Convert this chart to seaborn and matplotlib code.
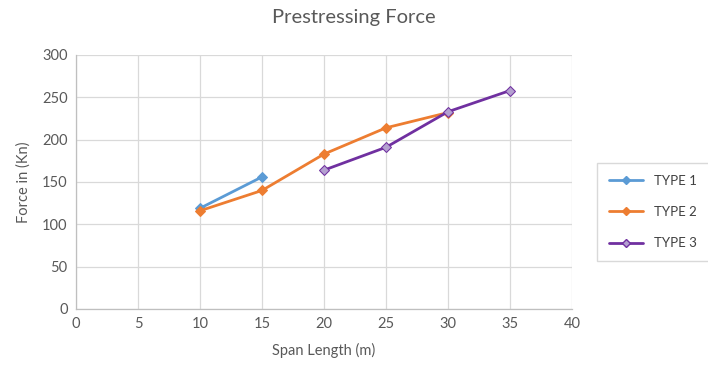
import matplotlib
matplotlib.use("Agg")
import matplotlib.pyplot as plt
from matplotlib.lines import Line2D
import seaborn as sns
import pandas as pd

span_1 = [10, 15]
force_1 = [119, 156]
span_2 = [10, 15, 20, 25, 30]
force_2 = [116, 140, 183, 214, 232]
span_3 = [20, 25, 30, 35]
force_3 = [164, 191, 233, 258]
series_names = ["TYPE 1", "TYPE 2", "TYPE 3"]
colors = ["#5B9BD5", "#ED7D31", "#7030A0"]
face_colors = ["#5B9BD5", "#ED7D31", "#B4A0D0"]

sns.set_theme(style="white")
plt.rcParams['font.family'] = ['Lato', 'DejaVu Sans']

fig = plt.figure(figsize=(7.08, 3.71), dpi=100)
ax = fig.add_axes([76/708, 1 - 309/371, (572-76)/708, (309-55)/371])

for xs, ys, name, c, fc in zip([span_1, span_2, span_3], [force_1, force_2, force_3],
                               series_names, colors, face_colors):
    df = pd.DataFrame({"x": xs, "y": ys})
    sns.lineplot(data=df, x="x", y="y", ax=ax, color=c, marker="D", markersize=5,
                 markerfacecolor=fc, markeredgecolor=c, linewidth=2, label=name)

ax.set_xlim(0, 40)
ax.set_ylim(0, 300)
ax.set_xticks(range(0, 41, 5))
ax.set_yticks(range(0, 301, 50))
ax.grid(True, color="#D9D9D9", linewidth=0.9)
for s in ["top", "right"]:
    ax.spines[s].set_visible(False)
for s in ["left", "bottom"]:
    ax.spines[s].set_color("#BFBFBF")
    ax.spines[s].set_linewidth(0.9)
ax.tick_params(colors="#595959", labelsize=10.5, length=0, pad=6)
ax.set_xlabel("Span Length (m)", color="#595959", fontsize=10.5, labelpad=8)
ax.set_ylabel("Force in (Kn)", color="#595959", fontsize=10.5, labelpad=8)
fig.suptitle("Prestressing Force", color="#595959", fontsize=14.5, y=0.975)

ax.get_legend().remove()
handles = [Line2D([], [], color=c, marker="D", markersize=4, markerfacecolor=fc,
                  markeredgecolor=c, linewidth=2) for c, fc in zip(colors, face_colors)]
leg = fig.legend(handles, series_names, loc="center", bbox_to_anchor=(653/708, 1 - 212/371),
                 frameon=True, fontsize=9.5, handlelength=2.6, labelspacing=1.45,
                 borderpad=0.9, fancybox=False, shadow=False)
leg.get_frame().set_edgecolor("#D0D0D0")
for t in leg.get_texts():
    t.set_color("#404040")

fig.savefig("out.png", dpi=100)
